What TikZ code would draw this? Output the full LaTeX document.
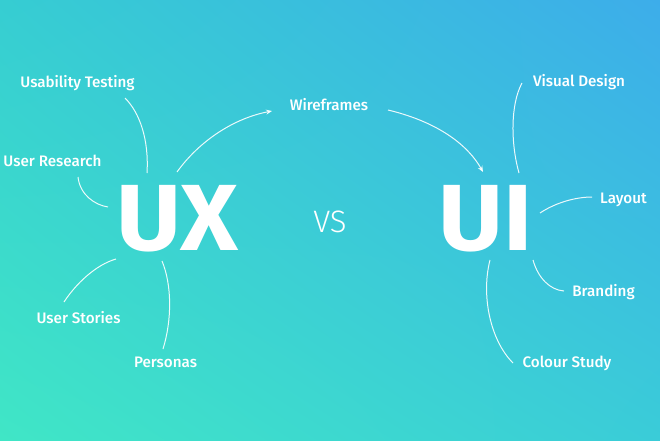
\documentclass[tikz,border=0pt]{standalone}
\usepackage{fontspec}
\setmainfont{Fira Sans}
\newfontfamily\labelfont{Fira Sans Medium}
\newfontfamily\bigfont{Fira Sans Bold}
\newfontfamily\thinfont{Fira Sans Light}
\usetikzlibrary{arrows.meta,shadings}
\definecolor{cTL}{RGB}{54,205,210}
\definecolor{cTR}{RGB}{61,173,234}
\definecolor{cBL}{RGB}{64,230,198}
\definecolor{cBR}{RGB}{58,204,216}
\begin{document}
\begin{tikzpicture}[x=1pt,y=-1pt,
  lbl/.style={text=white,font=\labelfont\fontsize{15.2}{17}\selectfont,inner sep=0pt,anchor=base},
  big/.style={text=white,font=\bigfont\fontsize{94}{94}\selectfont,inner sep=0pt,anchor=base,xscale=1.06},
  link/.style={white,line width=1pt,opacity=0.9},
  arr/.style={link,-{Stealth[length=6pt,width=5pt]}}]
\shade[upper left=cTL,upper right=cTR,lower left=cBL,lower right=cBR] (0,0) rectangle (660,440);
\useasboundingbox (0,0) rectangle (660,440);
% big words
\node[big] (ux) at (177.5,250) {UX};
\node[big] (ui) at (486,250) {UI};
\node[text=white,font=\thinfont\fontsize{31}{32}\selectfont,inner sep=0pt,anchor=base] (vs) at (330,232) {VS};
% labels
\node[lbl] (ut) at (77.5,87) {Usability Testing};
\node[lbl] (ur) at (52.5,166) {User Research};
\node[lbl] (us) at (78.5,323) {User Stories};
\node[lbl] (pe) at (165.5,367) {Personas};
\node[lbl] (wf) at (329,110.5) {Wireframes};
\node[lbl] (vd) at (579,86.5) {Visual Design};
\node[lbl] (la) at (623.5,203) {Layout};
\node[lbl] (br) at (603.5,296.5) {Branding};
\node[lbl] (cs) at (567,367.5) {Colour Study};
% connector ends
\coordinate (ut1) at (125,98);   \coordinate (ut2) at (147,173);
\coordinate (ur1) at (78,177);   \coordinate (ur2) at (108,207);
\coordinate (a1) at (177,172);   \coordinate (a2) at (272,111);
\coordinate (b1) at (388,110);   \coordinate (b2) at (483,172);
\coordinate (vd1) at (522,83);   \coordinate (vd2) at (519,173);
\coordinate (la1) at (592,197);  \coordinate (la2) at (540,213);
\coordinate (br1) at (533,260);  \coordinate (br2) at (564,291);
\coordinate (cs1) at (490,260);  \coordinate (cs2) at (513,363);
\coordinate (us1) at (116,259);  \coordinate (us2) at (64,302);
\coordinate (pe1) at (162,261);  \coordinate (pe2) at (163,349);
% connectors
\draw[link] (ut1) .. controls (140,113) and (149,140) .. (ut2);
\draw[link] (ur1) .. controls (80,195) and (95,205) .. (ur2);
\draw[arr] (a1) .. controls (200,140) and (235,118) .. (a2);
\draw[arr] (b1) .. controls (430,120) and (465,140) .. (b2);
\draw[link] (vd1) .. controls (510,105) and (511,145) .. (vd2);
\draw[link] (la1) .. controls (575,197) and (555,203) .. (la2);
\draw[link] (br1) .. controls (538,278) and (550,290) .. (br2);
\draw[link] (cs1) .. controls (481,295) and (490,340) .. (cs2);
\draw[link] (us1) .. controls (95,265) and (75,285) .. (us2);
\draw[link] (pe1) .. controls (172,285) and (172,320) .. (pe2);
\end{tikzpicture}
\end{document}
